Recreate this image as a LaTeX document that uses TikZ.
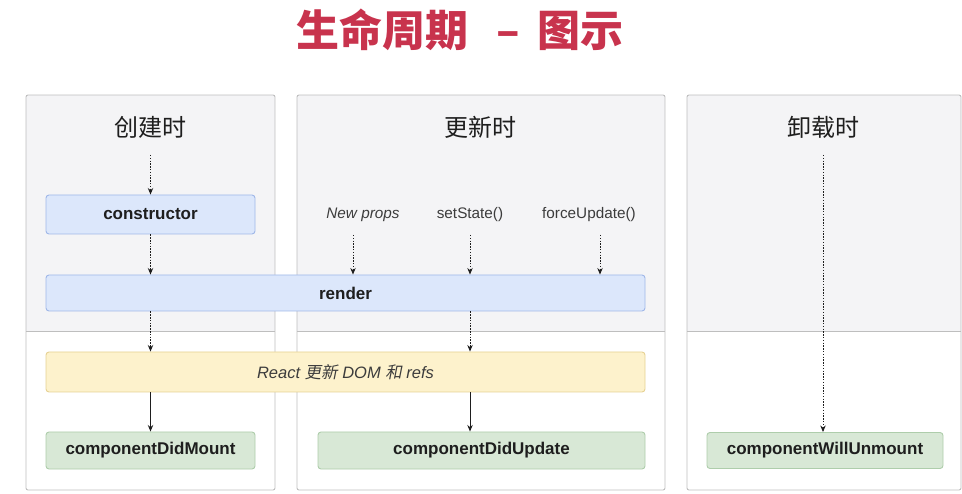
\documentclass[tikz,border=0pt]{standalone}
\usepackage{fontspec}
\setmainfont{Liberation Sans}
\newfontfamily\cjk{Noto Sans CJK SC}
\newfontfamily\cjkslant[FakeSlant=0.2]{Noto Sans CJK SC}
\usepackage{xcolor}
\usetikzlibrary{arrows.meta}
\definecolor{titlered}{HTML}{C8334D}
\definecolor{ink}{HTML}{1E1E1E}
\definecolor{softink}{HTML}{3C3C3C}
\definecolor{panelbg}{HTML}{F4F4F6}
\definecolor{panelline}{HTML}{BEBEBE}
\definecolor{bluefill}{HTML}{DCE7FB}
\definecolor{blueline}{HTML}{9FB7E8}
\definecolor{yellowfill}{HTML}{FDF2CC}
\definecolor{yellowline}{HTML}{E6D193}
\definecolor{greenfill}{HTML}{D8E8D6}
\definecolor{greenline}{HTML}{AECDAB}

\begin{document}
\begin{tikzpicture}[x=1pt, y=-1pt,
		font=\fontsize{15.3}{18}\selectfont,
		heading/.style={font=\cjk\fontsize{24}{27}\selectfont, text=ink},
		hook/.style={draw=blueline, fill=bluefill, line width=0.9pt, rounded corners=3pt, inner sep=0pt, text=ink, font=\fontsize{17}{20}\selectfont\bfseries},
		domstep/.style={draw=yellowline, fill=yellowfill, line width=0.9pt, rounded corners=3pt, inner sep=0pt, text=softink, font=\fontsize{16.5}{19}\selectfont\itshape},
		done/.style={draw=greenline, fill=greenfill, line width=0.9pt, rounded corners=3pt, inner sep=0pt, text=ink, font=\fontsize{17}{20}\selectfont\bfseries},
		trigger/.style={text=softink},
		dotflow/.style={-{Stealth[length=2.3mm, width=1.9mm]}, line width=0.85pt, dash pattern=on 1.5pt off 1.3pt, draw=ink},
		flow/.style={-{Stealth[length=2.3mm, width=1.9mm]}, line width=1pt, draw=ink}]
		\useasboundingbox (0,0) rectangle (962,494);

		% title
		\node[font=\cjk\bfseries\fontsize{43}{47}\selectfont, text=titlered] (title) at (460,30) {生命周期\hspace{28pt}–\hspace{17pt}图示};

		% three phases
		\foreach \l/\r in {26/275, 297/665, 687/961} {
			\fill[panelbg] (\l,95) rectangle (\r,331);
			\draw[panelline, line width=0.9pt] (\l,331) -- (\r,331);
			\draw[panelline, line width=0.9pt, rounded corners=2pt] (\l,95) rectangle (\r,490);
		}
		\node[heading] (mounthead) at (150,127) {创建时};
		\node[heading] (updatehead) at (480,127) {更新时};
		\node[heading] (unmounthead) at (823,127) {卸载时};

		% lifecycle methods
		\node[hook, minimum width=209pt, minimum height=39pt] (constructor) at (150.5,214.5) {constructor};
		\node[hook, minimum width=599pt, minimum height=36pt] (render) at (345.5,293) {render};
		\node[domstep, minimum width=599pt, minimum height=40pt] (dom) at (345.5,372) {React {\cjkslant 更新} DOM {\cjkslant 和} refs};
		\node[done, minimum width=209pt, minimum height=37pt] (didmount) at (150.5,450.5) {componentDidMount};
		\node[done, minimum width=327pt, minimum height=37pt] (didupdate) at (481.5,450.5) {componentDidUpdate};
		\node[done, minimum width=236pt, minimum height=36pt] (willunmount) at (825,450.5) {componentWillUnmount};

		% update triggers
		\node[trigger, font=\fontsize{15.3}{18}\selectfont\itshape] (newprops) at (363,215) {New props};
		\node[trigger] (setstate) at (470,215) {setState()};
		\node[trigger] (forceupdate) at (589,215) {forceUpdate()};

		\coordinate (mountin) at (150.5,155);
		\coordinate (propsin) at (353,235);
		\coordinate (statein) at (470,235);
		\coordinate (forcein) at (600,235);
		\coordinate (unmountin) at (823,155);

		% connectors
		\draw[dotflow] (mountin) -- (constructor.north);
		\draw[dotflow] (constructor.south) -- (constructor.south |- render.north);
		\draw[dotflow] (constructor.south |- render.south) -- (constructor.south |- dom.north);
		\draw[flow] (constructor.south |- dom.south) -- (didmount.north);
		\draw[dotflow] (propsin) -- (propsin |- render.north);
		\draw[dotflow] (statein) -- (statein |- render.north);
		\draw[dotflow] (forcein) -- (forcein |- render.north);
		\draw[dotflow] (statein |- render.south) -- (statein |- dom.north);
		\draw[flow] (statein |- dom.south) -- (statein |- didupdate.north);
		\draw[dotflow] (unmountin) -- (unmountin |- willunmount.north);
	\end{tikzpicture}
\end{document}
